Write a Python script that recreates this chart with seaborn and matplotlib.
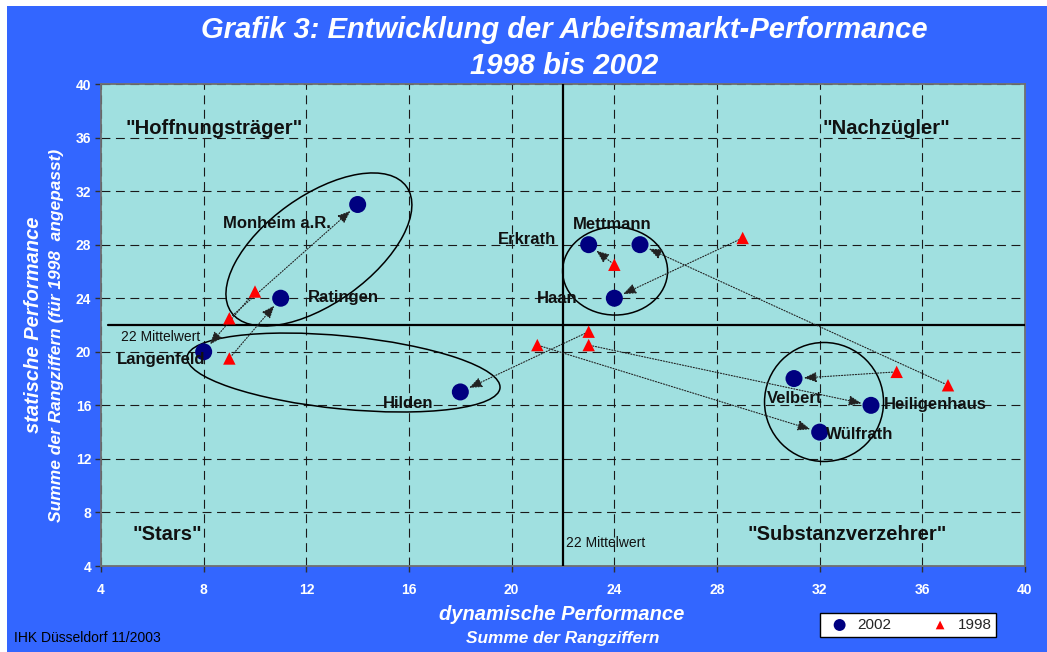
import matplotlib
matplotlib.use("Agg")
import matplotlib.pyplot as plt
import matplotlib.transforms as mtransforms
from matplotlib.patches import Ellipse, Rectangle
import seaborn as sns
import pandas as pd

# ---------------- data ----------------
towns = ["Monheim a.R.", "Ratingen", "Langenfeld", "Hilden", "Erkrath",
         "Mettmann", "Haan", "Velbert", "Heiligenhaus", "Wülfrath"]
x_2002 = [14, 11, 8, 18, 23, 25, 24, 31, 34, 32]
y_2002 = [31, 24, 20, 17, 28, 28, 24, 18, 16, 14]
x_1998 = [9, 9, 10, 23, 24, 37, 29, 35, 23, 21]
y_1998 = [22.5, 19.5, 24.5, 21.5, 26.5, 17.5, 28.5, 18.5, 20.5, 20.5]
mean_x = 22
mean_y = 22
ticks = [4, 8, 12, 16, 20, 24, 28, 32, 36, 40]
quadrants = ['"Hoffnungsträger"', '"Nachzügler"', '"Stars"', '"Substanzverzehrer"']
title_lines = ["Grafik 3: Entwicklung der Arbeitsmarkt-Performance", "1998 bis 2002"]

# ---------------- styling / layout ----------------
W, H = 1047, 652
BLUE = "#3366FF"
FACE = "#A0E0E0"
NAVY = "#000080"
RED = "#FF0000"

sns.set_style("ticks")
plt.rcParams["font.family"] = ["Liberation Sans", "DejaVu Sans"]

df02 = pd.DataFrame({"town": towns, "x": x_2002, "y": y_2002})
df98 = pd.DataFrame({"town": towns, "x": x_1998, "y": y_1998})

fig = plt.figure(figsize=(W / 100, H / 100), dpi=100)
fig.patch.set_facecolor("white")
fig.add_artist(Rectangle((7 / W, 0), 1 - 7 / W, 1 - 6 / H, transform=fig.transFigure,
                         facecolor=BLUE, edgecolor="none", zorder=-5))

ax = fig.add_axes([101 / W, 1 - 566 / H, 924 / W, 482 / H])
ax.set_facecolor(FACE)

sns.scatterplot(data=df02, x="x", y="y", ax=ax, color=NAVY, marker="o", s=150,
                edgecolor="none", label="2002", zorder=6)
sns.scatterplot(data=df98, x="x", y="y", ax=ax, color=RED, marker="^", s=80,
                edgecolor="none", label="1998", zorder=6)

ax.set_xlim(ticks[0], ticks[-1])
ax.set_ylim(ticks[0], ticks[-1])
ax.set_xticks(ticks)
ax.set_yticks(ticks)
ax.set_xlabel("")
ax.set_ylabel("")
ax.grid(True, color="#1a1a1a", linestyle=(0, (8, 5)), linewidth=0.8)
ax.set_axisbelow(True)
for sp in ax.spines.values():
    sp.set_color("#707070")
    sp.set_linewidth(1.3)
ax.tick_params(axis="both", colors="#303030", labelcolor="white", length=4, width=1,
               labelsize=10)
ax.tick_params(axis="x", pad=8)
ax.tick_params(axis="y", pad=3)
for lab in ax.get_xticklabels() + ax.get_yticklabels():
    lab.set_fontweight("bold")

# mean lines
ax.axvline(mean_x, color="black", lw=1.6, zorder=4)
ax.axhline(mean_y, xmin=0.0075, color="black", lw=1.6, zorder=4)
ax.annotate("22 Mittelwert", xy=(4.78, mean_y), xytext=(0, -12), textcoords="offset pixels",
            ha="left", va="center", fontsize=10, color="#111111")
ax.annotate("22 Mittelwert", xy=(mean_x, 5.72), xytext=(3, 0), textcoords="offset pixels",
            ha="left", va="center", fontsize=10, color="#111111")

# arrows 1998 -> 2002
for i in range(len(towns)):
    ax.annotate("", xy=(x_2002[i], y_2002[i]), xytext=(x_1998[i], y_1998[i]),
                arrowprops=dict(arrowstyle="-|>,head_length=0.55,head_width=0.22",
                                color="#222222", lw=0.8, linestyle=(0, (1, 1.5)),
                                shrinkA=3, shrinkB=7, mutation_scale=14),
                zorder=5)

# ellipses: centre in data units, semi-axes in pixels, angle in degrees
ellipse_specs = [
    (12.49, 27.64, 107.8, 53.7, 35.7),
    (13.45, 18.45, 157.2, 36.5, -5.65),
    (24.03, 26.03, 52.5, 44.0, 0),
    (32.17, 16.25, 59.5, 59.5, 0),
]
for cx, cy, a, b, ang in ellipse_specs:
    tr = mtransforms.ScaledTranslation(cx, cy, ax.transData)
    ax.add_patch(Ellipse((0, 0), 2 * a, 2 * b, angle=ang, transform=tr, fill=False,
                         edgecolor="black", lw=1.1, zorder=4))

# point labels: offsets in pixels
label_style = {
    "Monheim a.R.": (-27, -19, "right"),
    "Ratingen": (27, 1, "left"),
    "Langenfeld": (2, -8, "right"),
    "Hilden": (-27, -12, "right"),
    "Erkrath": (-33, 5, "right"),
    "Mettmann": (-28, 20, "center"),
    "Haan": (-37, 0, "right"),
    "Velbert": (1, -20, "center"),
    "Heiligenhaus": (13, 1, "left"),
    "Wülfrath": (6, -2, "left"),
}
for i, t in enumerate(towns):
    dx, dy, ha = label_style[t]
    ax.annotate(t, xy=(x_2002[i], y_2002[i]), xytext=(dx, dy), textcoords="offset pixels",
                ha=ha, va="center", fontsize=12, fontweight="bold", color="#111111", zorder=7)

# quadrant labels
quad_pos = [(8.40, 36.71), (34.58, 36.71), (6.57, 6.32), (33.07, 6.32)]
for q, (qx, qy) in zip(quadrants, quad_pos):
    ax.text(qx, qy, q, ha="center", va="center", fontsize=14.5, fontweight="bold",
            color="#111111")

# titles and axis labels
fig.text(564 / W, 1 - 30 / H, title_lines[0], ha="center", va="center", fontsize=21,
         fontweight="bold", fontstyle="italic", color="white")
fig.text(564 / W, 1 - 66 / H, title_lines[1], ha="center", va="center", fontsize=21,
         fontweight="bold", fontstyle="italic", color="white")
fig.text(34 / W, 1 - 325 / H, "statische Performance", rotation=90, ha="center", va="center",
         fontsize=14.5, fontweight="bold", fontstyle="italic", color="white")
fig.text(57 / W, 1 - 335 / H, "Summe der Rangziffern (für 1998  angepasst)", rotation=90,
         ha="center", va="center", fontsize=12.5, fontweight="bold", fontstyle="italic",
         color="white")
fig.text(562 / W, 1 - 615 / H, "dynamische Performance", ha="center", va="center",
         fontsize=14.5, fontweight="bold", fontstyle="italic", color="white")
fig.text(563 / W, 1 - 638 / H, "Summe der Rangziffern", ha="center", va="center",
         fontsize=12.4, fontweight="bold", fontstyle="italic", color="white")
fig.text(14 / W, 1 - 638 / H, "IHK Düsseldorf 11/2003", ha="left", va="center",
         fontsize=10, color="black")

leg = ax.legend(loc="center", bbox_to_anchor=(908 / W, 1 - 625 / H),
                bbox_transform=fig.transFigure, ncol=2, frameon=True, fancybox=False,
                fontsize=11, markerscale=0.7, handletextpad=0.15, columnspacing=2.2,
                borderpad=0.3, borderaxespad=0, handlelength=2.0)
frame = leg.get_frame()
frame.set_edgecolor("black")
frame.set_linewidth(1.0)
frame.set_facecolor("white")
frame.set_alpha(1)

fig.savefig("out.png", dpi=100, facecolor=fig.get_facecolor())
